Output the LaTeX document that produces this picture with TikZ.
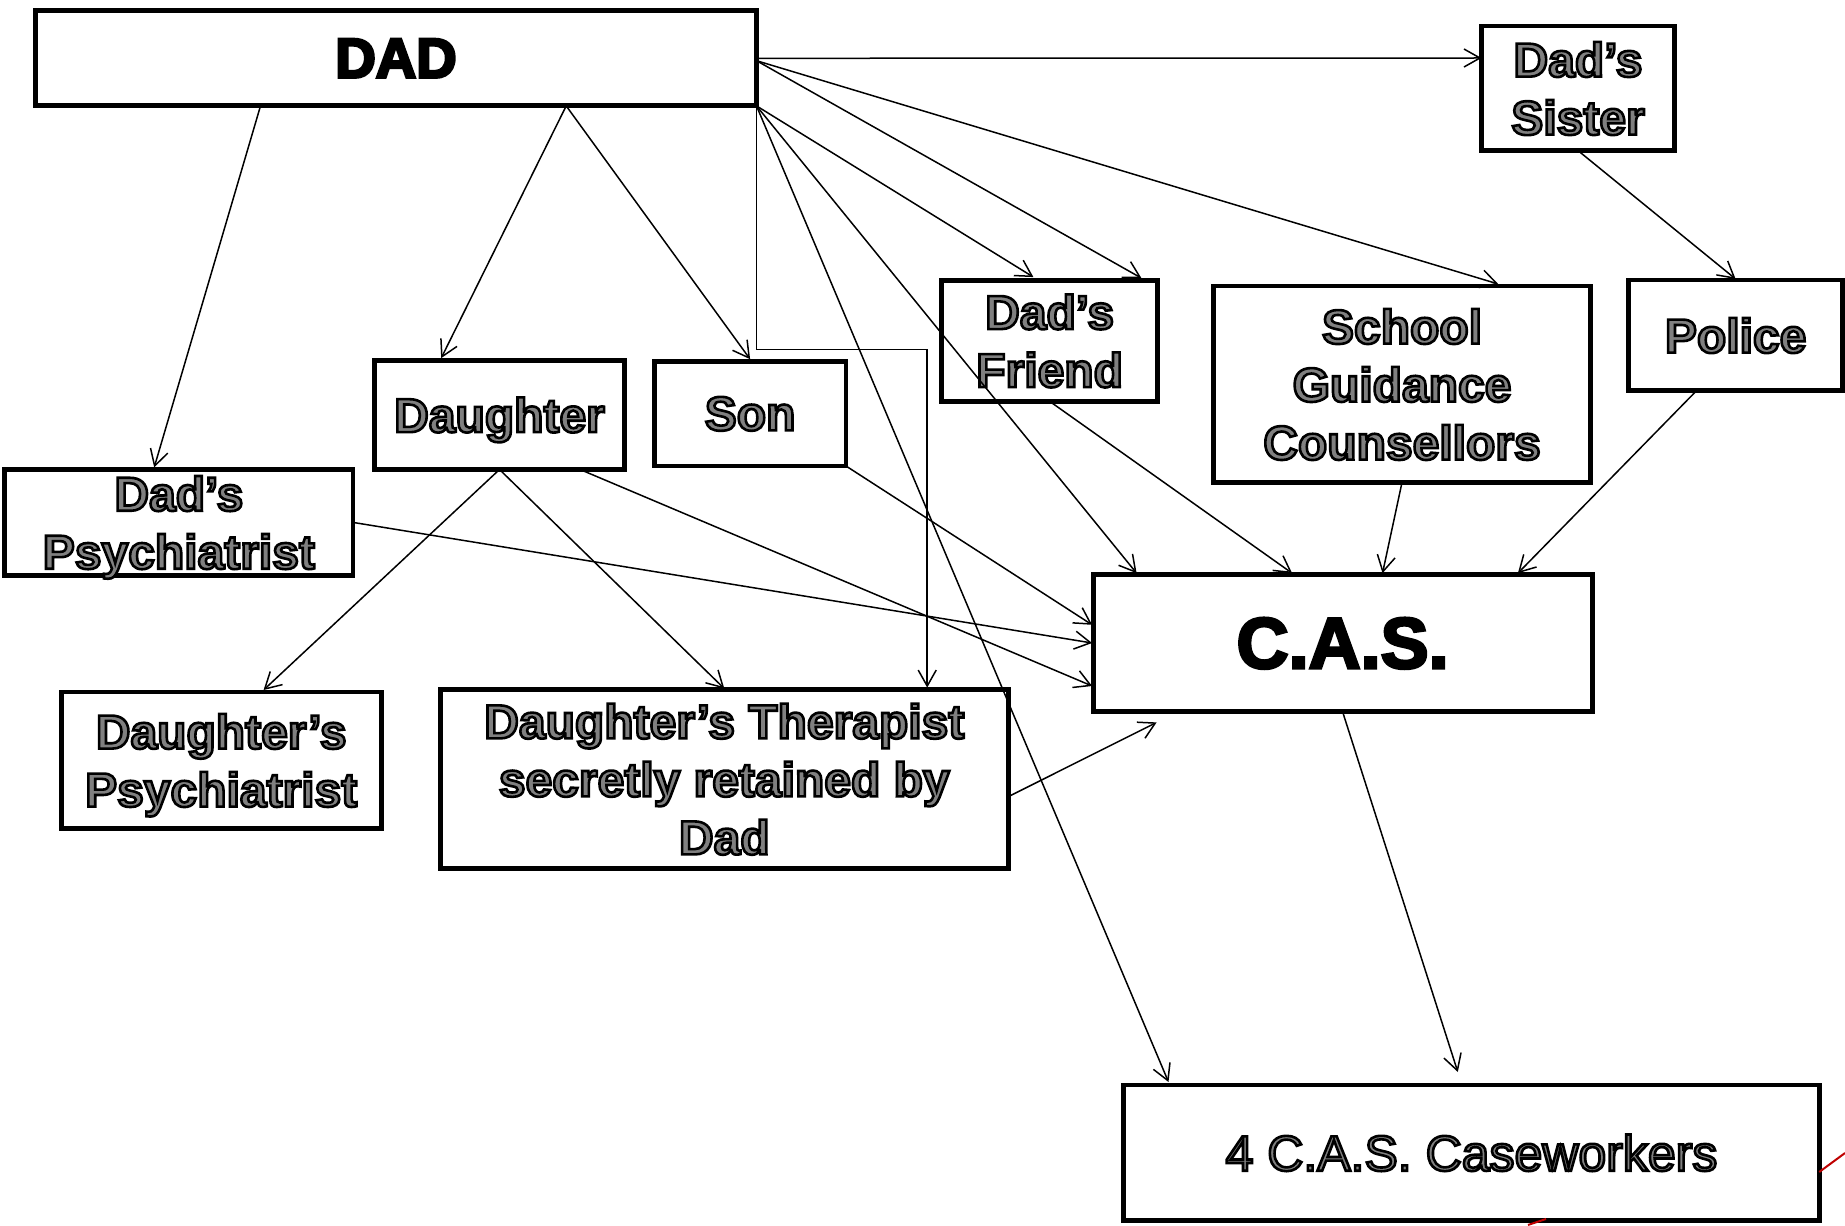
\documentclass[tikz,border=0pt]{standalone}
\usepackage{fontspec}
\setmainfont{Liberation Sans}
\usetikzlibrary{arrows.meta,calc}
\newcommand\olt[1]{\special{pdf:literal direct 2 Tr 1.3 w 0 G 0.5 g}#1\special{pdf:literal direct 0 Tr 0 g}}
\newcommand\hvt[1]{\special{pdf:literal direct 2 Tr 1.4 w 0 G 0 g}#1\special{pdf:literal direct 0 Tr 0 g}}
\tikzset{
  box/.style={draw, line width=2.4pt, inner sep=0pt, outer sep=0pt, align=center, rectangle, text depth=0pt},
  gtext/.style={font=\fontsize{24pt}{29pt}\selectfont\bfseries},
  arr/.style={-{Straight Barb[length=8pt,width=9pt]}, line width=0.75pt},
}
\begin{document}
\begin{tikzpicture}[x=0.5pt,y=-0.5pt]
\useasboundingbox (0,0) rectangle (1845,1225);
% boxes
\node[box, minimum width=360.5pt, minimum height=47.6pt, font=\fontsize{28pt}{33pt}\selectfont\bfseries] (dad) at (396,58.3) {\hvt{DAD}};
\node[box, gtext, minimum width=96.5pt, minimum height=62.3pt] (sister) at (1578,88.3) {\olt{Dad’s\\Sister}};
\node[box, gtext, minimum width=108.2pt, minimum height=60.6pt] (friend) at (1049.6,340.7) {\olt{Dad’s\\Friend}};
\node[box, gtext, minimum width=188.8pt, minimum height=98.2pt] (school) at (1402,384.2) {\olt{School\\Guidance\\Counsellors}};
\node[box, gtext, minimum width=107pt, minimum height=55.3pt] (police) at (1735.6,335.3) {\olt{Police}};
\node[box, gtext, minimum width=125.3pt, minimum height=54.7pt] (dau) at (499.5,414.8) {\olt{Daughter}};
\node[box, gtext, minimum width=95.9pt, minimum height=52.4pt] (son) at (750.1,413.6) {\olt{Son}};
\node[box, gtext, minimum width=174.1pt, minimum height=53pt] (dpsy) at (178.9,522.4) {\olt{Dad’s\\Psychiatrist}};
\node[box, minimum width=249.5pt, minimum height=68.8pt, font=\fontsize{36pt}{43pt}\selectfont\bfseries] (cas) at (1342.6,643) {\hvt{C.A.S.}};
\node[box, gtext, minimum width=160pt, minimum height=68.2pt] (dpsy2) at (221.2,760.2) {\olt{Daughter’s\\Psychiatrist}};
\node[box, gtext, minimum width=284.1pt, minimum height=89.4pt] (ther) at (724.3,779) {\olt{Daughter’s Therapist\\secretly retained by\\Dad}};
\node[box, minimum width=347.7pt, minimum height=67.6pt, font=\fontsize{25pt}{30pt}\selectfont] (cw) at (1471.5,1152.6) {\olt{4 C.A.S. Caseworkers}};
% connectors
\draw[arr] (dad.east) -- ($(sister.north west)+(0,32)$);
\draw[arr] ($(dad.north east)+(0,50)$) -- ($(school.north west)+(285,-2)$);
\draw[arr] ($(dad.north east)+(0,50)$) -- ($(friend.north west)+(200,-2)$);
\draw[arr] (dad.south east) -- ($(friend.north west)+(92,-3)$);
\draw[arr] (dad.south east) -- ($(cas.north west)+(43.5,-1)$);
\draw[arr] (dad.south east) -- ++(0,243.5) -| ($(ther.north west)+(487,-2)$);
\draw[arr] (dad.south east) -- ($(cw.north west)+(44.7,-3)$);
\draw[arr] ($(dad.south west)+(225,0)$) -- ($(dpsy.north west)+(149.4,-2)$);
\draw[arr] ($(dad.south west)+(530.7,0)$) -- ($(dau.north west)+(67,-2)$);
\draw[arr] ($(dad.south west)+(530.7,0)$) -- ($(son.north)+(0,-2)$);
\draw[arr] (sister.south) -- ($(police.north)+(0,-1)$);
\draw[arr] (friend.south) -- ($(cas.north west)+(199,-1)$);
\draw[arr] (school.south) -- ($(cas.north west)+(289.4,-1)$);
\draw[arr] ($(police.south west)+(68,0)$) -- ($(cas.north west)+(424.8,-1)$);
\draw[arr] (son.south east) -- ($(cas.north west)+(-1,50.6)$);
\draw[arr] ($(dau.south west)+(205.9,0)$) -- ($(cas.north west)+(-1,111.8)$);
\draw[arr] (dpsy.east) -- ($(cas.west)+(-1,0)$);
\draw[arr] (dau.south) -- ($(dpsy2.north west)+(202.4,-2)$);
\draw[arr] (dau.south) -- ($(ther.north)+(0,-1)$);
\draw[arr] ($(ther.north east)+(0,107)$) -- ($(cas.south west)+(63.5,10.6)$);
\draw[arr] (cas.south) -- ($(cw.north west)+(334,-13)$);
% red fragments at the edge
\draw[red!75!black, line width=1pt] (cw.east |- 0,1172) -- (1845,1153);
\draw[red!75!black, line width=1pt] (1528,1225) -- (1546,1219);
\end{tikzpicture}
\end{document}
